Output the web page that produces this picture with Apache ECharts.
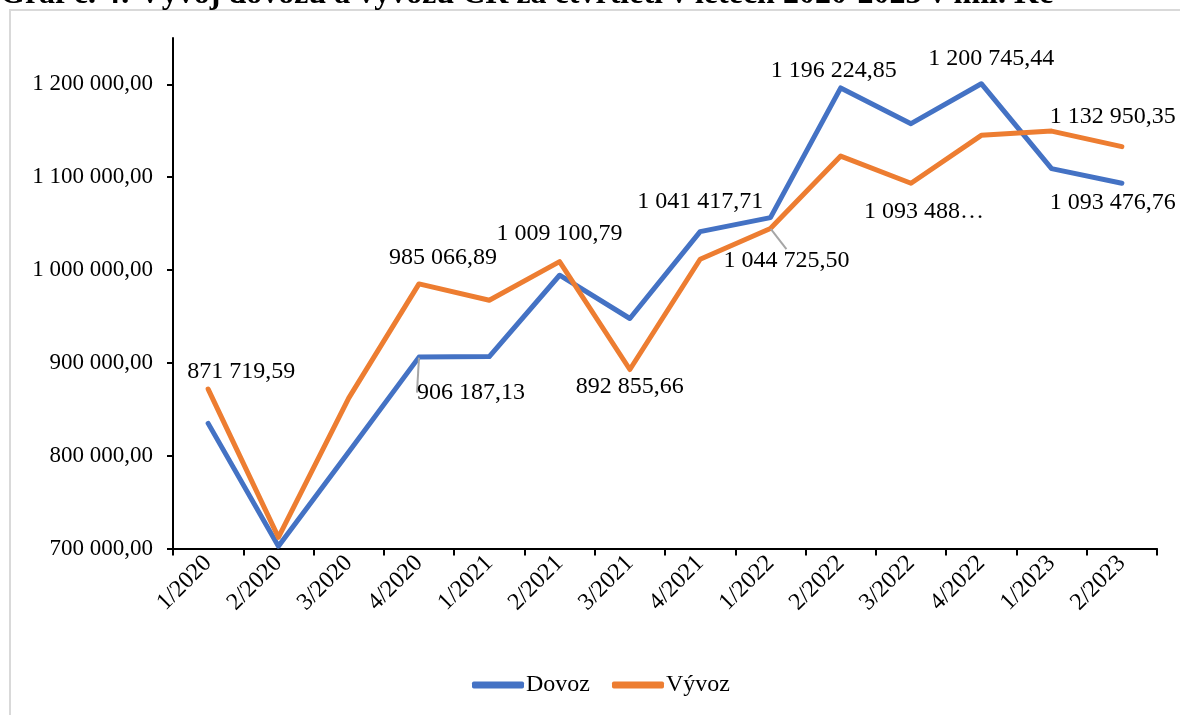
<!DOCTYPE html>
<html>
<head>
<meta charset="utf-8">
<script src="https://cdn.jsdelivr.net/npm/echarts@6/dist/echarts.min.js"></script>
<style>
  html, body { margin: 0; padding: 0; background: #fff; }
  #graf { width: 1180px; height: 715px; }
</style>
</head>
<body>
<div id="graf"></div>
<script>
var kategorie = ['1/2020', '2/2020', '3/2020', '4/2020', '1/2021', '2/2021', '3/2021',
  '4/2021', '1/2022', '2/2022', '3/2022', '4/2022', '1/2023', '2/2023'];
var dovoz = [834800, 702500, 804000, 906187.13, 906800, 994400, 947800,
  1041417.71, 1056500, 1196224.85, 1157700, 1200745.44, 1109300, 1093476.76];
var vyvoz = [871719.59, 712000, 862000, 985066.89, 967500, 1009100.79, 892855.66,
  1011600, 1044725.50, 1122800, 1093488, 1145100, 1149700, 1132950.35];
var osaY = [700000, 800000, 900000, 1000000, 1100000, 1200000];
var nadpis = 'Graf č. 4: Vývoj dovozu a vývozu ČR za čtvrtletí v letech 2020-2023 v mil. Kč';

var pismo = 'Liberation Serif';

function cislo(v) {
  var p = v.toFixed(2).split('.');
  return p[0].replace(/\B(?=(\d{3})+(?!\d))/g, ' ') + ',' + p[1];
}

// which points get a data label, and where (excel-ish placement)
var stitkyDovoz = {
  3: { position: 'bottom', move: [52, 18], line: true },
  7: { position: 'top', move: [0, -12] },
  9: { position: 'top', move: [-7, 0] },
  11: { position: 'top', move: [10, -8] },
  13: { position: 'bottom', move: [-9, 2] }
};
var stitkyVyvoz = {
  0: { position: 'top', move: [33, 0] },
  3: { position: 'top', move: [24, -9] },
  5: { position: 'top', move: [0, -10] },
  6: { position: 'bottom', move: [0, 0] },
  8: { position: 'bottom', move: [16, 15], line: true },
  10: { position: 'bottom', move: [13, 11], text: '1 093 488…' },
  13: { position: 'top', move: [-9, -12] }
};

function body(hodnoty, stitky) {
  return hodnoty.map(function (v, i) {
    var s = stitky[i];
    if (!s) return v;
    return {
      value: v,
      label: {
        show: true,
        position: s.position,
        formatter: s.text ? s.text : function (p) { return cislo(p.value); }
      },
      labelLine: { show: !!s.line }
    };
  });
}

function posun(stitky) {
  return function (p) {
    var s = stitky[p.dataIndex];
    if (s && s.move) return { dx: s.move[0], dy: s.move[1] };
    return {};
  };
}

var myChart = echarts.init(document.getElementById('graf'), null, { renderer: 'canvas' });

var spolecnyStitek = {
  show: false,
  color: '#000',
  fontFamily: pismo,
  fontSize: 24,
  distance: 5
};

myChart.setOption({
  animation: false,
  textStyle: { fontFamily: pismo, color: '#000' },
  color: ['#4472C4', '#ED7D31'],
  graphic: [
    {
      type: 'rect',
      shape: { x: 10, y: 10, width: 1200, height: 800 },
      style: { fill: 'none', stroke: '#d9d9d9', lineWidth: 2 },
      silent: true
    },
    {
      type: 'text',
      x: 0,
      y: 11,
      style: {
        text: nadpis,
        font: 'bold 32px "Liberation Serif"',
        fill: '#000',
        verticalAlign: 'bottom'
      },
      silent: true
    }
  ],
  grid: { left: 173, right: 23, top: 38, bottom: 166.5 },
  legend: {
    left: 467,
    top: 668,
    itemWidth: 52,
    itemHeight: 7,
    itemGap: 22,
    icon: 'roundRect',
    textStyle: { fontFamily: pismo, fontSize: 24, color: '#000', padding: [0, 0, 0, -3] },
    data: ['Dovoz', 'Vývoz']
  },
  xAxis: {
    type: 'category',
    data: kategorie,
    boundaryGap: true,
    axisLine: { lineStyle: { color: '#000', width: 2 } },
    axisTick: { show: true, length: 7, lineStyle: { color: '#000', width: 2 } },
    axisLabel: {
      rotate: 45,
      margin: 11,
      interval: 0,
      fontSize: 24,
      fontFamily: pismo,
      color: '#000'
    }
  },
  yAxis: {
    type: 'value',
    min: 700000,
    max: 1250000,
    interval: 100000,
    axisLine: { show: true, lineStyle: { color: '#000', width: 2 } },
    axisTick: { show: true, length: 6, customValues: osaY, lineStyle: { color: '#000', width: 2 } },
    splitLine: { show: false },
    axisLabel: {
      customValues: osaY,
      margin: 20,
      fontSize: 23,
      fontFamily: pismo,
      color: '#000',
      formatter: function (v) { return cislo(v); }
    }
  },
  series: [
    {
      name: 'Dovoz',
      type: 'line',
      data: body(dovoz, stitkyDovoz),
      showSymbol: true,
      symbol: 'circle',
      symbolSize: 1,
      itemStyle: { color: '#4472C4' },
      lineStyle: { width: 5, color: '#4472C4', join: 'round', cap: 'round' },
      label: spolecnyStitek,
      labelLine: { lineStyle: { color: '#a6a6a6', width: 2 } },
      labelLayout: posun(stitkyDovoz)
    },
    {
      name: 'Vývoz',
      type: 'line',
      data: body(vyvoz, stitkyVyvoz),
      showSymbol: true,
      symbol: 'circle',
      symbolSize: 1,
      itemStyle: { color: '#ED7D31' },
      lineStyle: { width: 5, color: '#ED7D31', join: 'round', cap: 'round' },
      label: spolecnyStitek,
      labelLine: { lineStyle: { color: '#a6a6a6', width: 2 } },
      labelLayout: posun(stitkyVyvoz)
    }
  ]
});
</script>
</body>
</html>
